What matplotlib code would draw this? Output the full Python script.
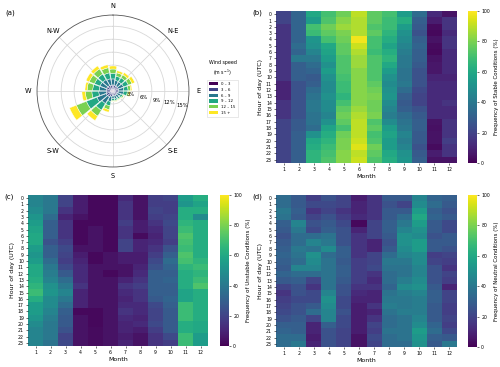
import numpy as np
import matplotlib.pyplot as plt
from matplotlib.patches import Patch

# wind rose data (% of time), 18 sectors, one list per speed bin
directions = list(range(0, 360, 20))
speed_bins = ['0 – 3', '3 – 6', '6 – 9', '9 – 12', '12 – 15', '15 +']
ws_0_3 = [0.4, 0.4, 0.4, 0.4, 0.4, 0.4, 0.4, 0.4, 0.4, 0.4, 0.4, 0.5, 0.5, 0.5, 0.5, 0.5, 0.4, 0.4]
ws_3_6 = [1.0, 0.9, 0.9, 0.9, 0.9, 0.8, 0.7, 0.7, 0.7, 0.7, 0.9, 1.1, 1.2, 1.1, 1.1, 1.1, 1.1, 1.0]
ws_6_9 = [1.4, 1.2, 1.2, 1.3, 1.2, 1.2, 0.8, 0.7, 0.7, 0.7, 1.2, 1.8, 2.3, 1.7, 1.6, 1.6, 1.6, 1.5]
ws_9_12 = [1.3, 1.0, 1.1, 1.2, 1.0, 0.9, 0.5, 0.4, 0.4, 0.4, 1.0, 1.8, 2.6, 1.6, 1.5, 1.4, 1.5, 1.4]
ws_12_15 = [1.0, 0.8, 0.8, 0.9, 0.6, 0.4, 0.3, 0.2, 0.2, 0.2, 0.9, 1.6, 2.5, 1.5, 1.3, 1.3, 1.4, 1.2]
ws_15p = [0.7, 0.5, 0.6, 0.7, 0.3, 0.3, 0.1, 0.1, 0.1, 0.1, 0.6, 1.2, 1.7, 0.8, 0.5, 0.8, 0.8, 0.7]
compass = ['N', 'N-E', 'E', 'S-E', 'S', 'S-W', 'W', 'N-W']
rings = [3, 6, 9, 12, 15]

months = [str(m) for m in range(1, 13)]
hours = [str(h) for h in range(24)]

# frequency (%) of each stability class, one list of 24 hours per month
stable = [
    [20, 20, 15, 15, 15, 15, 15, 15, 15, 15, 15, 10, 10, 10, 15, 15, 15, 20, 20, 20, 20, 20, 20, 20],
    [32, 32, 32, 32, 32, 35, 32, 40, 30, 30, 30, 25, 25, 25, 25, 25, 25, 28, 28, 30, 30, 30, 30, 30],
    [60, 55, 70, 68, 52, 50, 45, 40, 35, 32, 28, 30, 35, 38, 40, 40, 38, 38, 35, 50, 60, 62, 65, 65],
    [70, 72, 78, 75, 70, 60, 58, 55, 50, 55, 50, 48, 48, 50, 48, 48, 45, 50, 58, 62, 65, 68, 70, 72],
    [78, 82, 85, 80, 78, 75, 75, 72, 72, 72, 70, 68, 68, 65, 70, 75, 78, 75, 70, 78, 80, 80, 82, 82],
    [90, 88, 88, 88, 98, 92, 88, 85, 85, 82, 82, 82, 82, 82, 82, 85, 88, 90, 90, 90, 92, 95, 90, 92],
    [75, 75, 72, 75, 70, 70, 68, 72, 72, 72, 72, 75, 78, 80, 78, 78, 80, 72, 75, 70, 72, 78, 75, 72],
    [70, 68, 68, 65, 62, 58, 62, 65, 60, 55, 50, 48, 50, 52, 48, 45, 42, 48, 55, 58, 55, 55, 60, 62],
    [55, 62, 55, 50, 48, 45, 42, 40, 40, 38, 38, 40, 35, 30, 28, 30, 35, 38, 40, 45, 42, 45, 50, 52],
    [35, 30, 28, 25, 30, 32, 30, 30, 28, 25, 25, 25, 22, 20, 20, 25, 28, 30, 30, 28, 28, 25, 28, 30],
    [12, 8, 3, 2, 5, 3, 2, 5, 6, 6, 10, 12, 12, 12, 12, 12, 12, 5, 4, 5, 5, 3, 8, 5],
    [5, 15, 15, 12, 15, 15, 12, 12, 12, 12, 10, 12, 12, 12, 15, 12, 12, 15, 15, 15, 18, 15, 15, 5],
]
unstable = [
    [45, 45, 48, 52, 55, 58, 60, 60, 55, 52, 55, 60, 60, 62, 65, 68, 62, 55, 55, 52, 48, 45, 45, 45],
    [40, 40, 40, 35, 30, 30, 30, 25, 30, 30, 35, 40, 42, 45, 50, 52, 48, 48, 45, 42, 40, 40, 40, 38],
    [20, 20, 15, 10, 15, 15, 15, 18, 22, 20, 18, 22, 28, 35, 40, 45, 40, 35, 30, 28, 28, 25, 20, 22],
    [8, 8, 8, 5, 2, 2, 2, 2, 5, 8, 10, 12, 12, 12, 15, 10, 10, 10, 2, 5, 5, 5, 5, 5],
    [2, 2, 2, 2, 2, 5, 5, 5, 5, 2, 2, 5, 5, 5, 5, 5, 5, 5, 2, 2, 2, 3, 3, 3],
    [2, 2, 2, 2, 2, 2, 2, 2, 2, 5, 5, 5, 2, 5, 5, 5, 5, 5, 5, 5, 5, 5, 5, 5],
    [12, 15, 15, 15, 18, 15, 15, 20, 20, 8, 8, 5, 5, 10, 15, 12, 10, 12, 15, 12, 10, 10, 8, 10],
    [5, 5, 5, 5, 8, 8, 3, 10, 10, 8, 8, 10, 12, 15, 18, 15, 15, 12, 12, 10, 12, 8, 5, 5],
    [18, 18, 20, 18, 15, 12, 10, 12, 15, 18, 22, 25, 30, 30, 30, 30, 28, 22, 20, 20, 22, 18, 15, 15],
    [20, 18, 18, 20, 22, 20, 20, 18, 25, 30, 35, 32, 30, 32, 30, 30, 32, 30, 28, 28, 28, 28, 22, 18],
    [55, 52, 62, 62, 65, 68, 72, 70, 68, 72, 70, 65, 62, 62, 62, 58, 58, 68, 68, 68, 62, 62, 68, 68],
    [62, 58, 62, 48, 62, 62, 62, 62, 62, 62, 65, 68, 65, 68, 72, 62, 62, 62, 62, 62, 60, 60, 55, 55],
]
neutral = [
    [35, 35, 40, 38, 30, 28, 25, 28, 30, 32, 30, 28, 32, 28, 20, 15, 18, 20, 22, 25, 30, 32, 35, 35],
    [28, 28, 30, 28, 45, 40, 35, 35, 40, 38, 35, 45, 35, 30, 25, 25, 22, 25, 25, 28, 30, 30, 35, 40],
    [18, 22, 15, 20, 25, 22, 35, 45, 38, 50, 48, 45, 35, 20, 15, 22, 22, 28, 35, 20, 10, 10, 8, 10],
    [25, 22, 20, 25, 28, 30, 38, 40, 48, 35, 38, 38, 38, 38, 38, 45, 50, 48, 45, 45, 30, 25, 25, 25],
    [20, 20, 15, 18, 22, 25, 25, 25, 30, 30, 28, 30, 30, 28, 25, 25, 22, 22, 25, 22, 22, 20, 20, 20],
    [8, 10, 10, 12, 2, 10, 15, 15, 15, 15, 18, 18, 18, 18, 15, 12, 10, 8, 8, 8, 8, 8, 5, 5],
    [15, 15, 15, 15, 20, 20, 20, 10, 10, 20, 20, 22, 15, 12, 15, 10, 10, 15, 10, 15, 20, 18, 22, 20],
    [28, 25, 28, 28, 30, 30, 28, 25, 28, 35, 40, 38, 35, 35, 32, 38, 40, 42, 38, 35, 35, 38, 35, 35],
    [28, 20, 28, 35, 40, 45, 50, 50, 48, 45, 40, 38, 38, 42, 48, 42, 40, 40, 42, 38, 38, 38, 38, 35],
    [45, 48, 55, 60, 55, 50, 48, 55, 55, 48, 48, 45, 45, 48, 50, 45, 42, 42, 42, 45, 48, 55, 52, 50],
    [32, 35, 30, 32, 28, 28, 25, 28, 28, 18, 20, 25, 25, 25, 28, 30, 30, 28, 28, 28, 32, 35, 30, 28],
    [30, 28, 25, 28, 22, 22, 28, 28, 25, 20, 18, 15, 20, 18, 10, 20, 20, 18, 18, 20, 18, 22, 28, 40],
]

fig = plt.figure(figsize=(5, 3.67), dpi=100)

# (a) wind rose
ax = fig.add_axes([0.074, 0.545, 0.304, 0.414], projection='polar')
theta = np.deg2rad(directions)
colors = plt.cm.viridis(np.linspace(0, 1, 6))
bottom = np.zeros(len(directions))
for vals, c in zip([ws_0_3, ws_3_6, ws_6_9, ws_9_12, ws_12_15, ws_15p], colors):
    ax.bar(theta, vals, width=np.deg2rad(20) * 0.88, bottom=bottom, color=c,
           edgecolor='white', linewidth=0.3, zorder=3)
    bottom += np.array(vals)
ax.set_theta_zero_location('N')
ax.set_theta_direction(-1)
ax.set_ylim(0, 17.6)
ax.set_yticks(rings)
ax.set_yticklabels([])
for r in rings:
    ax.text(np.deg2rad(102), r + 1.3, f'{r}%', fontsize=3.8, ha='center',
            va='center', zorder=5)
ax.set_xticks(np.deg2rad(np.arange(0, 360, 45)))
ax.set_xticklabels(compass, fontsize=4.8)
ax.tick_params(axis='x', pad=-4)
ax.grid(color='#d8d8d8', linewidth=0.6)
ax.spines['polar'].set_color('#555555')
ax.spines['polar'].set_linewidth(0.6)
handles = [Patch(facecolor=c, edgecolor='none') for c in colors]
fig.text(0.445, 0.812, 'Wind speed\n(m s$^{-1}$)', fontsize=3.4, ha='center',
         va='center', linespacing=1.5)
leg = fig.legend(handles, speed_bins, loc='upper left',
                 bbox_to_anchor=(0.41, 0.788),
                 fontsize=2.8, frameon=True,
                 handlelength=2.2, handleheight=0.9, borderpad=0.6,
                 labelspacing=0.45, edgecolor='#cccccc', fancybox=False)
leg.get_frame().set_linewidth(0.4)
fig.text(0.01, 0.975, '(a)', fontsize=5, va='top')


def heatmap(rect, cbar_x, data, label, tag):
    hm = fig.add_axes(rect)
    arr = np.array(data).T
    mesh = hm.pcolormesh(np.arange(13), np.arange(25), arr, cmap='viridis',
                         vmin=0, vmax=100)
    hm.set_xlim(0, 12)
    hm.set_ylim(24, 0)
    hm.set_xticks(np.arange(12) + 0.5)
    hm.set_xticklabels(months)
    hm.set_yticks(np.arange(24) + 0.5)
    hm.set_yticklabels(hours)
    hm.tick_params(labelsize=3.3, length=1.5, width=0.4, pad=1.5)
    for s in hm.spines.values():
        s.set_visible(False)
    hm.set_xlabel('Month', fontsize=4.5, labelpad=1.5)
    hm.set_ylabel('Hour of day (UTC)', fontsize=4.5, labelpad=2)
    cax = fig.add_axes([cbar_x, rect[1], 0.018, rect[3]])
    cb = fig.colorbar(mesh, cax=cax)
    cb.outline.set_visible(False)
    cb.set_ticks([0, 20, 40, 60, 80, 100])
    cb.ax.tick_params(labelsize=3.3, length=1.5, width=0.4, pad=1.5)
    cb.set_label(label, fontsize=4.0, labelpad=3)
    fig.text(rect[0] - 0.048, rect[1] + rect[3] + 0.005, tag, fontsize=5, va='top')


heatmap([0.552, 0.556, 0.362, 0.414], 0.936, stable,
        'Frequency of Stable Conditions (%)', '(b)')
heatmap([0.056, 0.057, 0.36, 0.412], 0.44, unstable,
        'Frequency of Unstable Conditions (%)', '(c)')
heatmap([0.552, 0.054, 0.362, 0.415], 0.936, neutral,
        'Frequency of Neutral Conditions (%)', '(d)')

fig.savefig('out.png', dpi=100)
